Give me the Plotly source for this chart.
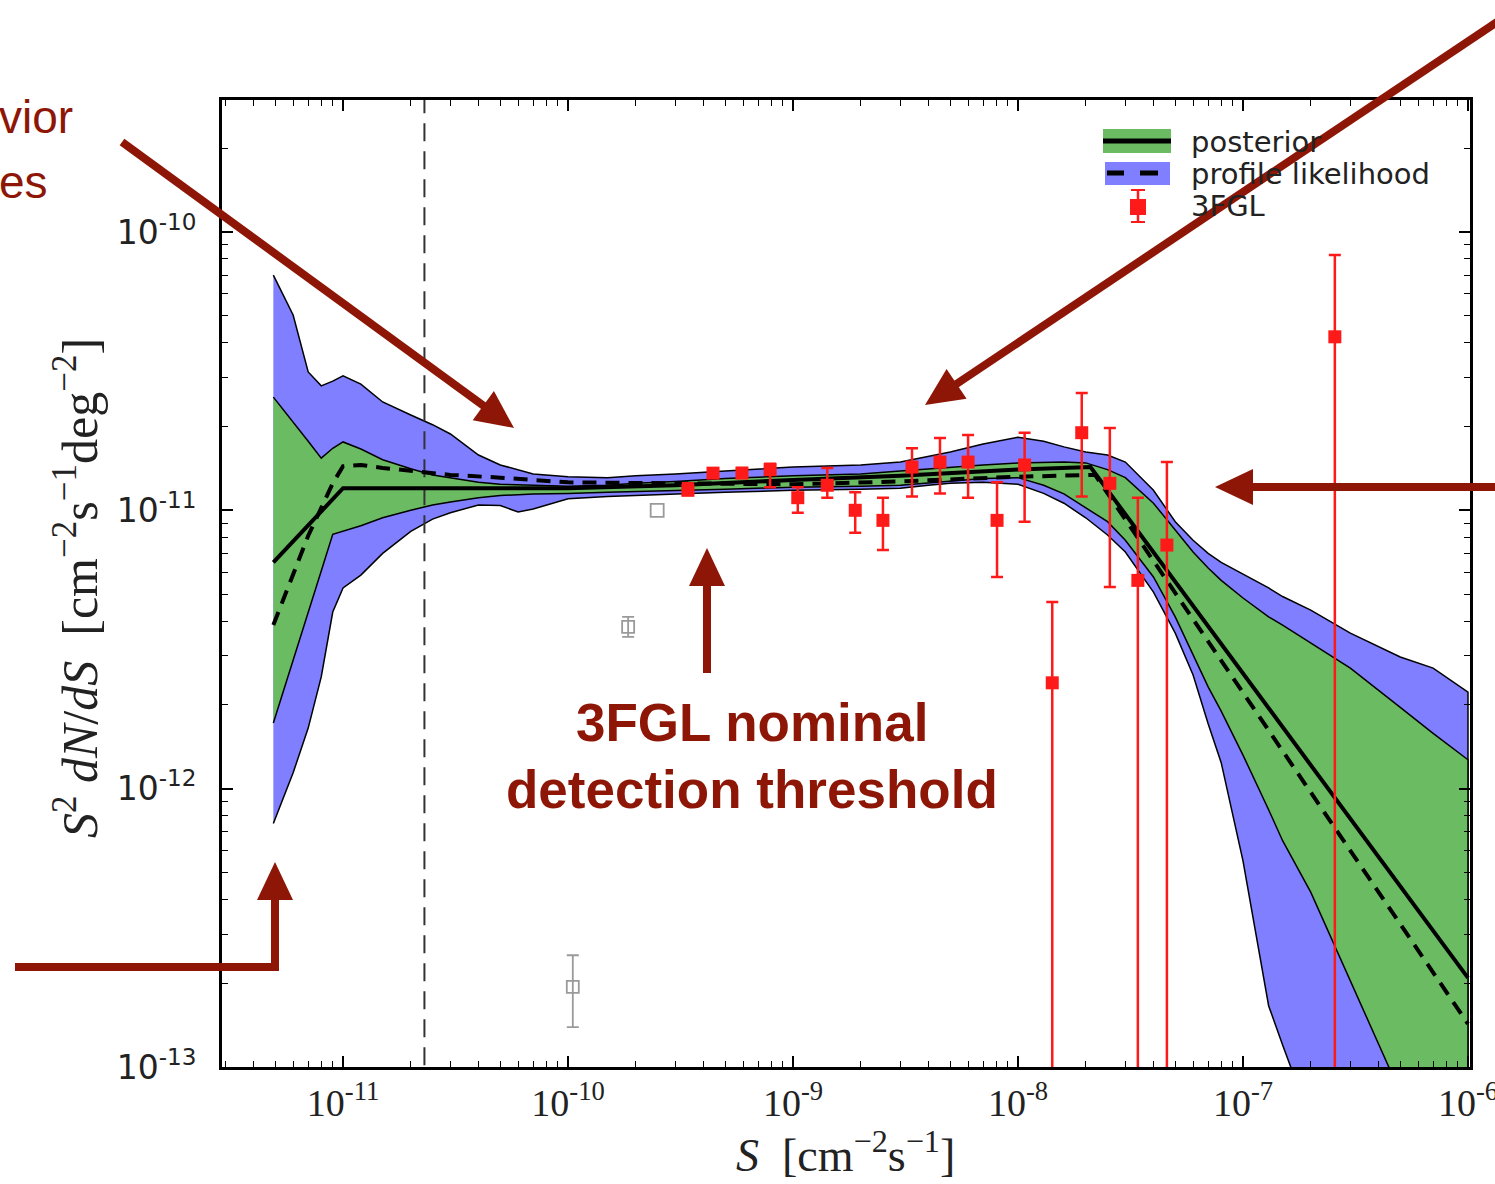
import plotly.graph_objects as go

# ---------------- data ----------------
grid_S = [4.9e-12, 6e-12, 7e-12, 8e-12, 9e-12, 1e-11, 1.2e-11, 1.5e-11, 2e-11, 2.5e-11,
          3e-11, 4e-11, 5e-11, 7e-11, 1e-10, 1.5e-10, 2e-10, 3e-10, 5e-10, 1e-9,
          2e-9, 3e-9, 5e-9, 7e-9, 1e-8, 1.3e-8, 1.6e-8, 2e-8, 2.5e-8, 3e-8,
          4e-8, 5e-8, 6e-8, 7e-8, 8e-8, 1e-7, 1.3e-7, 1.5e-7, 2e-7, 3e-7,
          5e-7, 7e-7, 1e-6]
blue_up = [7.0e-11, 5.03e-11, 3.14e-11, 2.80e-11, 2.91e-11, 3.04e-11, 2.84e-11, 2.45e-11, 2.20e-11, 2.03e-11,
           1.88e-11, 1.58e-11, 1.455e-11, 1.35e-11, 1.32e-11, 1.31e-11, 1.33e-11, 1.35e-11, 1.385e-11, 1.43e-11,
           1.455e-11, 1.49e-11, 1.62e-11, 1.73e-11, 1.83e-11, 1.77e-11, 1.69e-11, 1.62e-11, 1.58e-11, 1.49e-11,
           1.18e-11, 9.1e-12, 7.8e-12, 7.0e-12, 6.5e-12, 5.9e-12, 5.26e-12, 4.9e-12, 4.38e-12, 3.62e-12,
           2.97e-12, 2.71e-12, 2.22e-12]
green_up = [2.55e-11, 2.08e-11, 1.77e-11, 1.54e-11, 1.67e-11, 1.76e-11, 1.66e-11, 1.52e-11, 1.41e-11, 1.34e-11,
            1.31e-11, 1.26e-11, 1.24e-11, 1.23e-11, 1.22e-11, 1.23e-11, 1.25e-11, 1.27e-11, 1.30e-11, 1.33e-11,
            1.35e-11, 1.385e-11, 1.43e-11, 1.455e-11, 1.48e-11, 1.49e-11, 1.49e-11, 1.48e-11, 1.40e-11, 1.31e-11,
            1.06e-11, 8.5e-12, 7.08e-12, 6.2e-12, 5.6e-12, 4.84e-12, 4.14e-12, 3.87e-12, 3.34e-12, 2.71e-12,
            1.96e-12, 1.58e-12, 1.27e-12]
green_lo = [1.72e-12, 2.87e-12, 4.28e-12, 6.05e-12, 8.2e-12, 8.4e-12, 8.8e-12, 9.4e-12, 1.0e-11, 1.045e-11,
            1.07e-11, 1.11e-11, 1.13e-11, 1.145e-11, 1.15e-11, 1.16e-11, 1.17e-11, 1.18e-11, 1.19e-11, 1.21e-11,
            1.22e-11, 1.23e-11, 1.27e-11, 1.30e-11, 1.31e-11, 1.23e-11, 1.145e-11, 1.02e-11, 9.1e-12, 7.8e-12,
            5.76e-12, 4.14e-12, 3.02e-12, 2.32e-12, 1.90e-12, 1.32e-12, 8.4e-13, 6.5e-13, 4.25e-13, 2.05e-13,
            8.1e-14, 4.4e-14, 2.4e-14]
blue_lo_S = [4.9e-12, 6e-12, 7e-12, 8e-12, 9e-12, 1e-11, 1.2e-11, 1.5e-11, 2e-11, 2.5e-11,
             3e-11, 4e-11, 5e-11, 6e-11, 7e-11, 1e-10, 1.5e-10, 2e-10, 3e-10, 5e-10,
             1e-9, 2e-9, 3e-9, 4e-9, 5e-9, 7e-9, 1e-8, 1.3e-8, 1.6e-8, 2e-8,
             2.5e-8, 3e-8, 4e-8, 5e-8, 6e-8, 7e-8, 8e-8, 1e-7, 1.3e-7, 1.5e-7,
             2e-7, 3e-7, 5e-7, 1e-6]
blue_lo = [7.5e-13, 1.14e-12, 1.65e-12, 2.52e-12, 4.31e-12, 5.26e-12, 5.85e-12, 7.0e-12, 8.4e-12, 9.3e-12,
           9.8e-12, 1.045e-11, 1.04e-11, 9.86e-12, 1.01e-11, 1.10e-11, 1.12e-11, 1.13e-11, 1.145e-11, 1.16e-11,
           1.18e-11, 1.19e-11, 1.20e-11, 1.23e-11, 1.25e-11, 1.26e-11, 1.24e-11, 1.15e-11, 1.06e-11, 9.4e-12,
           8.15e-12, 7.08e-12, 5.08e-12, 3.62e-12, 2.56e-12, 1.71e-12, 1.24e-12, 5.5e-13, 1.66e-13, 1.2e-13,
           6.4e-14, 3e-14, 1.5e-14, 8e-15]

post_S = [4.9e-12, 1e-11, 1e-10, 3e-10, 1e-9, 3e-9, 1e-8, 2.1e-8, 1e-6]
post_med = [6.5e-12, 1.20e-11, 1.20e-11, 1.23e-11, 1.285e-11, 1.33e-11, 1.40e-11, 1.43e-11, 2.09e-13]

prof_S = [4.9e-12, 6e-12, 7e-12, 8e-12, 9e-12, 1e-11, 1.2e-11, 1.5e-11, 2e-11, 3e-11,
          5e-11, 1e-10, 3e-10, 1e-9, 3e-9, 1e-8, 2.2e-8, 1e-6]
prof_best = [3.87e-12, 5.95e-12, 8.1e-12, 1.02e-11, 1.25e-11, 1.44e-11, 1.455e-11, 1.42e-11, 1.385e-11, 1.34e-11,
             1.31e-11, 1.26e-11, 1.25e-11, 1.24e-11, 1.27e-11, 1.32e-11, 1.34e-11, 1.43e-13]

fgl_S = [3.41e-10, 4.41e-10, 5.93e-10, 7.91e-10, 1.05e-9, 1.42e-9, 1.89e-9, 2.51e-9, 3.38e-9, 4.50e-9,
         6.00e-9, 8.07e-9, 1.07e-8, 1.42e-8, 1.92e-8, 2.56e-8, 3.41e-8, 4.59e-8, 2.56e-7]
fgl_val = [1.18e-11, 1.36e-11, 1.36e-11, 1.40e-11, 1.11e-11, 1.23e-11, 1.0e-11, 9.2e-12, 1.43e-11, 1.49e-11,
           1.49e-11, 9.2e-12, 1.455e-11, 2.40e-12, 1.90e-11, 1.25e-11, 5.6e-12, 7.5e-12, 4.2e-11]
fgl_hi = [1.25e-11, 1.41e-11, 1.42e-11, 1.47e-11, 1.21e-11, 1.42e-11, 1.16e-11, 1.11e-11, 1.67e-11, 1.82e-11,
          1.865e-11, 1.26e-11, 1.90e-11, 4.68e-12, 2.64e-11, 1.975e-11, 1.11e-11, 1.49e-11, 8.27e-11]
fgl_lo = [1.135e-11, 1.32e-11, 1.31e-11, 1.21e-11, 9.8e-12, 1.11e-11, 8.3e-12, 7.2e-12, 1.12e-11, 1.15e-11,
          1.11e-11, 5.76e-12, 9.1e-12, 1e-15, 1.12e-11, 5.3e-12, 1e-15, 1e-15, 1e-15]

# faint (grey, open) points: the first two carry error bars, the last one none
faint_S = [1.05e-10, 1.85e-10]
faint_val = [1.94e-13, 3.81e-12]
faint_hi = [2.52e-13, 4.14e-12]
faint_lo = [1.39e-13, 3.51e-12]
faint2_S = [2.49e-10]
faint2_val = [1.0e-11]

threshold_S = 2.3e-11

x_tickvals = [1e-11, 1e-10, 1e-9, 1e-8, 1e-7, 1e-6]
x_ticktext = ["10<sup>-11</sup>", "10<sup>-10</sup>", "10<sup>-9</sup>", "10<sup>-8</sup>",
              "10<sup>-7</sup>", "10<sup>-6</sup>"]
y_tickvals = [1e-13, 1e-12, 1e-11, 1e-10]
y_ticktext = ["10<sup>-13</sup>", "10<sup>-12</sup>", "10<sup>-11</sup>", "10<sup>-10</sup>"]

legend_labels = ["posterior", "profile likelihood", "3FGL"]

# ---------------- styles ----------------
BLUE = "#7f7fff"
GREEN = "#6bbb62"
RED = "#ff1a1a"
GREY = "#9a9a9a"
DR = "#8e1606"

W, H = 1495, 1184
L, R, T, B = 222, 1470, 100, 1067


def X(px):
    return (px - L) / (R - L)


def Y(py):
    return (B - py) / (B - T)


fig = go.Figure()

# bands
fig.add_trace(go.Scatter(
    x=grid_S + blue_lo_S[::-1], y=blue_up + blue_lo[::-1],
    mode="lines", fill="toself", fillcolor=BLUE,
    line=dict(color="black", width=1.5), hoverinfo="skip", showlegend=False))
fig.add_trace(go.Scatter(
    x=grid_S + grid_S[::-1], y=green_up + green_lo[::-1],
    mode="lines", fill="toself", fillcolor=GREEN,
    line=dict(color="black", width=1.5), hoverinfo="skip", showlegend=False))

# threshold line
fig.add_trace(go.Scatter(
    x=[threshold_S, threshold_S], y=[1e-14, 1e-9], mode="lines",
    line=dict(color="#333333", width=2, dash="18px,10px"), showlegend=False))

# median / best-fit lines
fig.add_trace(go.Scatter(x=post_S, y=post_med, mode="lines",
                         line=dict(color="black", width=4), showlegend=False))
fig.add_trace(go.Scatter(x=prof_S, y=prof_best, mode="lines",
                         line=dict(color="black", width=4, dash="14px,9px"), showlegend=False))

# faint grey points
fig.add_trace(go.Scatter(
    x=faint_S, y=faint_val, mode="markers",
    marker=dict(symbol="square-open", size=12, color=GREY, line=dict(width=1.8, color=GREY)),
    error_y=dict(type="data", symmetric=False,
                 array=[h - v for h, v in zip(faint_hi, faint_val)],
                 arrayminus=[v - l for v, l in zip(faint_val, faint_lo)],
                 color=GREY, thickness=1.8, width=6),
    showlegend=False))
fig.add_trace(go.Scatter(
    x=faint2_S, y=faint2_val, mode="markers",
    marker=dict(symbol="square-open", size=13, color=GREY, line=dict(width=1.8, color=GREY)),
    showlegend=False))

# 3FGL points
fig.add_trace(go.Scatter(
    x=fgl_S, y=fgl_val, mode="markers",
    marker=dict(symbol="square", size=13, color=RED),
    error_y=dict(type="data", symmetric=False,
                 array=[h - v for h, v in zip(fgl_hi, fgl_val)],
                 arrayminus=[v - l for v, l in zip(fgl_val, fgl_lo)],
                 color=RED, thickness=2.5, width=6),
    showlegend=False))

shapes = []
annotations = []

# ---------- manual legend ----------
shapes.append(dict(type="rect", xref="paper", yref="paper", x0=X(1103), x1=X(1171), y0=Y(153), y1=Y(129),
                   fillcolor=GREEN, line=dict(width=0), layer="above"))
shapes.append(dict(type="line", xref="paper", yref="paper", x0=X(1103), x1=X(1171), y0=Y(141), y1=Y(141),
                   line=dict(color="black", width=5), layer="above"))
shapes.append(dict(type="rect", xref="paper", yref="paper", x0=X(1105), x1=X(1170), y0=Y(185), y1=Y(162),
                   fillcolor=BLUE, line=dict(width=0), layer="above"))
for a, b in [(1107, 1124), (1140, 1158)]:
    shapes.append(dict(type="line", xref="paper", yref="paper", x0=X(a), x1=X(b), y0=Y(173), y1=Y(173),
                       line=dict(color="black", width=5), layer="above"))
shapes.append(dict(type="line", xref="paper", yref="paper", x0=X(1138), x1=X(1138), y0=Y(190), y1=Y(222),
                   line=dict(color=RED, width=2.5), layer="above"))
for yy in (190, 222):
    shapes.append(dict(type="line", xref="paper", yref="paper", x0=X(1131), x1=X(1145), y0=Y(yy), y1=Y(yy),
                       line=dict(color=RED, width=2), layer="above"))
shapes.append(dict(type="rect", xref="paper", yref="paper", x0=X(1130), x1=X(1146), y0=Y(215), y1=Y(199),
                   fillcolor=RED, line=dict(width=0), layer="above"))
for lbl, yy in zip(legend_labels, (142, 174, 206)):
    annotations.append(dict(xref="paper", yref="paper", x=X(1190), y=Y(yy), text=lbl, showarrow=False,
                            xanchor="left", yanchor="middle", borderpad=0,
                            font=dict(family="DejaVu Sans", size=29, color="#222222")))


# ---------- dark-red arrows ----------
def arrow(x0, y0, x1, y1, head_len=38, head_half=18, width=8):
    dx, dy = x1 - x0, y1 - y0
    n = (dx * dx + dy * dy) ** 0.5
    ux, uy = dx / n, dy / n
    bx, by = x1 - head_len * ux, y1 - head_len * uy
    px_, py_ = -uy, ux
    shapes.append(dict(type="line", xref="paper", yref="paper", x0=X(x0), y0=Y(y0),
                       x1=X(bx + 2 * ux), y1=Y(by + 2 * uy),
                       line=dict(color=DR, width=width), layer="above"))
    path = "M {},{} L {},{} L {},{} Z".format(
        X(x1), Y(y1),
        X(bx + head_half * px_), Y(by + head_half * py_),
        X(bx - head_half * px_), Y(by - head_half * py_))
    shapes.append(dict(type="path", xref="paper", yref="paper", path=path,
                       fillcolor=DR, line=dict(width=0), layer="above"))


arrow(122, 142, 514, 428)
arrow(1515, 10, 925, 405)
arrow(1510, 487, 1215, 487)
arrow(707, 673, 707, 548)
shapes.append(dict(type="line", xref="paper", yref="paper", x0=X(15), y0=Y(967), x1=X(279), y1=Y(967),
                   line=dict(color=DR, width=8), layer="above"))
arrow(275, 971, 275, 862)

# ---------- dark-red texts ----------
annotations.append(dict(xref="paper", yref="paper", x=X(-3), y=Y(117), text="vior", showarrow=False,
                        xanchor="left", yanchor="middle",
                        font=dict(family="Liberation Sans", size=46, color=DR)))
annotations.append(dict(xref="paper", yref="paper", x=X(-3), y=Y(182), text="es", showarrow=False,
                        xanchor="left", yanchor="middle",
                        font=dict(family="Liberation Sans", size=46, color=DR)))
annotations.append(dict(xref="paper", yref="paper", x=X(752), y=Y(722), text="<b>3FGL nominal</b>",
                        showarrow=False, xanchor="center", yanchor="middle",
                        font=dict(family="Liberation Sans", size=53, color=DR)))
annotations.append(dict(xref="paper", yref="paper", x=X(752), y=Y(789), text="<b>detection threshold</b>",
                        showarrow=False, xanchor="center", yanchor="middle",
                        font=dict(family="Liberation Sans", size=53, color=DR)))

# ---------- axis titles ----------
annotations.append(dict(xref="paper", yref="paper", x=X(845), y=Y(1152),
                        text="<i>S</i>  [cm<sup>−2</sup>s<sup>−1</sup>]", showarrow=False,
                        xanchor="center", yanchor="middle",
                        font=dict(family="Liberation Serif", size=46, color="#222222")))
annotations.append(dict(xref="paper", yref="paper", x=X(76), y=Y(588), textangle=-90,
                        text="<i>S</i><sup>2</sup> <i>dN</i>/<i>dS</i>  [cm<sup>−2</sup>s<sup>−1</sup>deg<sup>−2</sup>]",
                        showarrow=False, xanchor="center", yanchor="middle",
                        font=dict(family="Liberation Serif", size=50, color="#222222")))

axis_common = dict(type="log", showgrid=False, zeroline=False, showline=True, linecolor="black",
                   linewidth=3, mirror="allticks", ticks="inside", ticklen=11, tickwidth=1.5,
                   tickcolor="black", tickmode="array", automargin=False, ticklabeloverflow="allow",
                   minor=dict(ticks="inside", ticklen=6, tickwidth=1, tickcolor="black",
                              dtick="D1", showgrid=False))

fig.update_layout(
    width=W, height=H, autosize=False,
    margin=dict(l=L, r=W - R, t=T, b=H - B, pad=0, autoexpand=False),
    paper_bgcolor="white", plot_bgcolor="white",
    showlegend=False,
    xaxis=dict(axis_common, range=[-11.538, -5.991], tickvals=x_tickvals, ticktext=x_ticktext,
               ticklabelstandoff=0,
               tickfont=dict(family="Liberation Serif", size=38, color="#222222")),
    yaxis=dict(axis_common, range=[-13.0, -9.526], tickvals=y_tickvals, ticktext=y_ticktext,
               ticklabelstandoff=16,
               tickfont=dict(family="DejaVu Sans", size=33, color="#222222")),
    shapes=shapes, annotations=annotations,
)

fig.write_html("out.html")
